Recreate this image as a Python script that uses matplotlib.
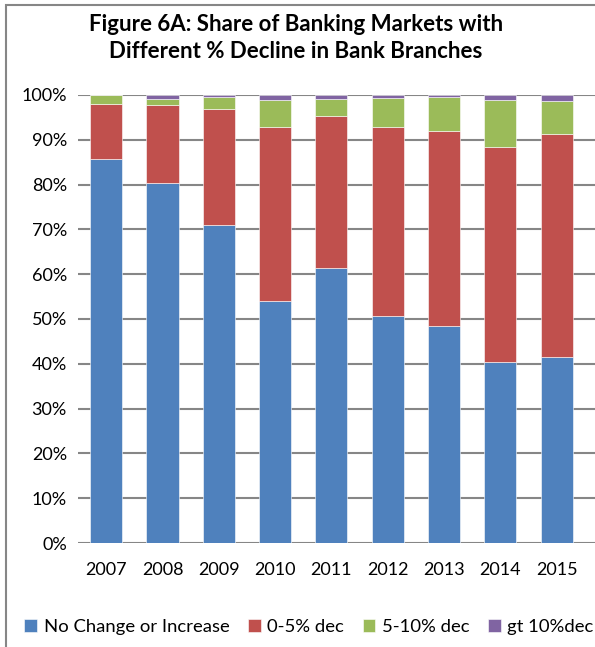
import numpy as np
import matplotlib.pyplot as plt
from matplotlib.patches import Rectangle

plt.rcParams['font.family'] = ['Lato', 'DejaVu Sans']

years = ["2007", "2008", "2009", "2010", "2011", "2012", "2013", "2014", "2015"]
no_change = [85.8, 80.3, 71.0, 54.0, 61.3, 50.7, 48.4, 40.3, 41.6]
dec_0_5 = [12.3, 17.5, 25.9, 38.8, 34.1, 42.1, 43.6, 48.1, 49.7]
dec_5_10 = [1.9, 1.3, 2.6, 6.15, 3.8, 6.45, 7.5, 10.4, 7.3]
dec_gt10 = [0.0, 0.9, 0.5, 1.05, 0.8, 0.75, 0.5, 1.2, 1.4]

series = [
    ("No Change or Increase", no_change, "#4F81BD"),
    ("0-5% dec", dec_0_5, "#C0504D"),
    ("5-10% dec", dec_5_10, "#9BBB59"),
    ("gt 10%dec", dec_gt10, "#8064A2"),
]

W, H = 595, 647
fig = plt.figure(figsize=(W / 100, H / 100), dpi=100)
ax = fig.add_axes([78 / W, 1 - 543 / H, (W - 78) / W, (543 - 95) / H])

x = np.arange(len(years))
bottom = np.zeros(len(years))
for name, vals, col in series:
    vals = np.array(vals)
    ax.bar(x, vals, 0.57, bottom=bottom, color=col, label=name,
           edgecolor="#ffffff", linewidth=0.4, zorder=3)
    bottom += vals

ax.set_xlim(-0.5, 8.68)
ax.set_ylim(0, 100)
ax.set_yticks(np.arange(0, 101, 10))
ax.set_yticklabels([f"{v}%" for v in range(0, 101, 10)], fontsize=13)
ax.set_xticks(x)
ax.set_xticklabels(years, fontsize=13)
ax.tick_params(length=0, pad=8)
ax.tick_params(axis="x", pad=14)
ax.yaxis.grid(True, color="#868686", linewidth=1.5, zorder=0)
for s in ax.spines.values():
    s.set_visible(False)

fig.text(296 / W, 1 - 38 / H, "Figure 6A: Share of Banking Markets with\nDifferent % Decline in Bank Branches",
         ha="center", va="center", fontsize=16, fontweight="bold", linespacing=1.3)

fig.legend(loc="center", bbox_to_anchor=(309 / W, 1 - 627 / H), ncol=4, frameon=False,
           fontsize=13.3, handlelength=0.7, handleheight=0.7, handletextpad=0.35,
           columnspacing=1.0)

fig.patches.append(Rectangle((6 / W, -0.1), 1.2, 1 - 5 / H + 0.1, transform=fig.transFigure,
                             fill=False, edgecolor="#868686", linewidth=1.5))

fig.savefig("out.png", dpi=100)
